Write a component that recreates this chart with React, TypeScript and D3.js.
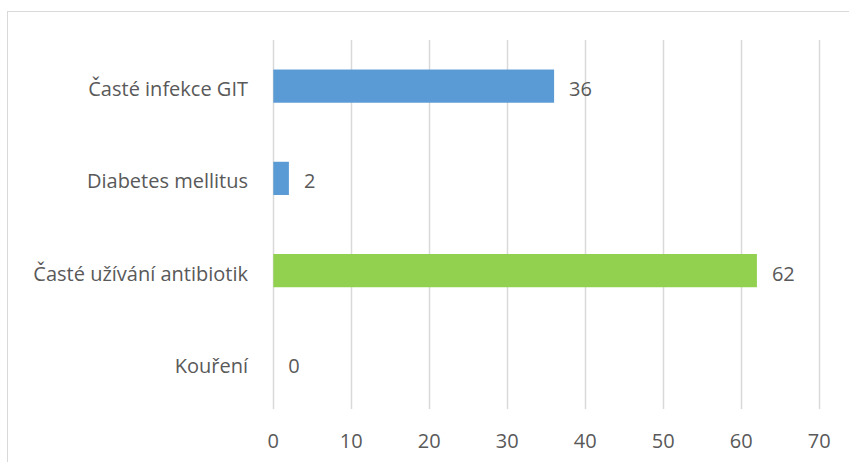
import React from 'react';
import * as d3 from 'd3';

const categories = ['Časté infekce GIT', 'Diabetes mellitus', 'Časté užívání antibiotik', 'Kouření'];
const values = [36, 2, 62, 0];
const barColors = ['#5B9BD5', '#5B9BD5', '#92D050', '#5B9BD5'];
const ticks = [0, 10, 20, 30, 40, 50, 60, 70];

const width = 849;
const height = 462;
const font = '"Open Sans", sans-serif';
const textColor = '#595959';
const fontSize = 20;

export default function App() {
  const x = d3.scaleLinear().domain([0, 70]).range([273.3, 819.3]);
  const y = d3.scaleBand().domain(categories).range([40, 409]).paddingInner(0.64).paddingOuter(0.32);

  return (
    <svg width={width} height={height} style={{ position: 'absolute', left: 0, top: 0, background: '#fff' }}>
      <rect x={7.5} y={11.5} width={width + 10} height={height + 10} fill="#fff" stroke="#d9d9d9" />
      {/* gridlines */}
      {ticks.map(t => (
        <line key={t} x1={Math.round(x(t)) + 0.5} x2={Math.round(x(t)) + 0.5} y1={40} y2={409} stroke="#d9d9d9" strokeWidth={1.5} />
      ))}
      {/* bars */}
      {categories.map((c, i) => (
        <rect key={c} x={x(0)} y={y(c)} width={x(values[i]) - x(0)} height={y.bandwidth()} fill={barColors[i]} />
      ))}
      {/* value labels */}
      {categories.map((c, i) => (
        <text key={c} x={x(values[i]) + 15} y={(y(c) as number) + y.bandwidth() / 2 + 3} dy="0.35em"
          fontFamily={font} fontSize={fontSize} fill={textColor}>{values[i]}</text>
      ))}
      {/* category labels */}
      {categories.map(c => (
        <text key={c} x={248} y={(y(c) as number) + y.bandwidth() / 2 + 3} dy="0.35em" textAnchor="end"
          fontFamily={font} fontSize={fontSize} fill={textColor}>{c}</text>
      ))}
      {/* x tick labels */}
      {ticks.map(t => (
        <text key={t} x={x(t)} y={441} dy="0.35em" textAnchor="middle"
          fontFamily={font} fontSize={fontSize} fill={textColor}>{t}</text>
      ))}
    </svg>
  );
}
